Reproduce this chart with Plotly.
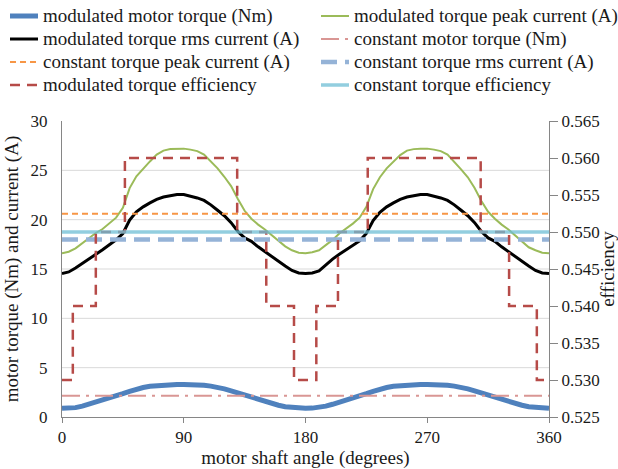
import plotly.graph_objects as go

# Shaft angle samples (degrees)
angle = list(range(0, 361, 5))

# Modulated motor torque (Nm)
mod_torque = [0.88, 0.90, 0.95, 1.10, 1.29, 1.48, 1.68, 1.88, 2.10, 2.36, 2.60, 2.82, 2.99,
              3.11, 3.19, 3.25, 3.28, 3.30, 3.30, 3.29, 3.26, 3.21, 3.13, 3.02, 2.85, 2.65,
              2.43, 2.20, 1.99, 1.79, 1.58, 1.38, 1.19, 1.04, 0.95, 0.90, 0.88,
              0.90, 0.95, 1.10, 1.29, 1.48, 1.68, 1.88, 2.10, 2.36, 2.60, 2.82, 2.99,
              3.11, 3.19, 3.25, 3.28, 3.30, 3.30, 3.29, 3.26, 3.21, 3.13, 3.02, 2.85, 2.65,
              2.43, 2.20, 1.99, 1.79, 1.58, 1.38, 1.19, 1.04, 0.95, 0.90, 0.88]

# Modulated torque peak current (A)
mod_peak = [16.60, 16.75, 17.10, 17.60, 18.10, 18.65, 19.05, 19.60, 20.20, 21.20, 23.20, 24.40,
            25.20, 25.90, 26.60, 27.00, 27.15, 27.20, 27.20, 27.10, 26.95, 26.60, 25.95, 25.20,
            24.35, 23.40, 22.10, 20.90, 20.10, 19.50, 19.00, 18.45, 17.90, 17.30, 16.90, 16.65,
            16.60,
            16.70, 16.90, 17.40, 17.95, 18.60, 19.10, 19.60, 20.20, 21.30, 23.10, 24.30,
            25.20, 25.90, 26.55, 27.00, 27.15, 27.20, 27.20, 27.10, 26.95, 26.60, 25.90, 25.10,
            24.30, 23.20, 21.90, 20.80, 20.10, 19.50, 19.00, 18.40, 17.80, 17.20, 16.90, 16.65,
            16.60]

# Modulated torque rms current (A)
mod_rms = [14.55, 14.70, 15.10, 15.55, 16.05, 16.50, 16.95, 17.45, 17.95, 18.60, 19.95, 20.80,
           21.30, 21.70, 22.05, 22.30, 22.45, 22.55, 22.55, 22.40, 22.20, 21.95, 21.50, 20.95,
           20.40, 19.70, 18.80, 18.15, 17.80, 17.25, 16.75, 16.25, 15.80, 15.30, 14.85, 14.60,
           14.55,
           14.60, 14.80, 15.40, 16.00, 16.50, 16.95, 17.45, 17.85, 18.60, 19.90, 20.75,
           21.30, 21.70, 22.05, 22.30, 22.45, 22.55, 22.55, 22.40, 22.20, 21.95, 21.50, 20.95,
           20.40, 19.70, 18.80, 18.15, 17.80, 17.25, 16.75, 16.25, 15.80, 15.30, 14.85, 14.60,
           14.55]

# Constant-torque reference levels
const_torque = 2.15
const_peak = 20.6
const_rms = 18.0
const_eff = 0.550

# Modulated torque efficiency: step levels starting at each angle
eff_angle = [0, 8, 25, 46.5, 129.5, 151, 171.5, 188, 204, 226, 309.5, 330.5, 351, 360]
eff_value = [0.530, 0.540, 0.550, 0.560, 0.550, 0.540, 0.530, 0.540, 0.550, 0.560, 0.550,
             0.540, 0.530, 0.530]

x_ticks = [0, 90, 180, 270, 360]
left_ticks = [0, 5, 10, 15, 20, 25, 30]
grid_levels = [5, 10, 15, 20, 25]

SERIF = "'Liberation Serif', 'Times New Roman', Times, serif"
INK = "#1a1a1a"
AXIS_GRAY = "#868686"
W, H = 618, 469
MARGIN = dict(l=62, r=69, t=121, b=52)
PLOT_W = W - MARGIN["l"] - MARGIN["r"]
PLOT_H = H - MARGIN["t"] - MARGIN["b"]
x_ends = [angle[0], angle[-1]]


def serif(size):
    return dict(family=SERIF, size=size)


def paper_x(px):
    return (px - MARGIN["l"]) / PLOT_W


def paper_y(py):
    return (H - MARGIN["b"] - py) / PLOT_H


fig = go.Figure()
traces = [
    go.Scatter(x=angle, y=mod_torque, name="modulated motor torque (Nm)",
               line=dict(color="#4f81bd", width=5)),
    go.Scatter(x=angle, y=mod_peak, name="modulated torque peak current (A)",
               line=dict(color="#9bbb59", width=2)),
    go.Scatter(x=angle, y=mod_rms, name="modulated torque rms current (A)",
               line=dict(color="#000000", width=3)),
    go.Scatter(x=x_ends, y=[const_torque] * 2, name="constant motor torque (Nm)",
               line=dict(color="#d99694", width=2, dash="18px,6px,3px,6px")),
    go.Scatter(x=x_ends, y=[const_peak] * 2, name="constant torque peak current (A)",
               line=dict(color="#f79646", width=2, dash="6px,4px")),
    go.Scatter(x=x_ends, y=[const_rms] * 2, name="constant torque rms current (A)",
               line=dict(color="#95b3d7", width=4.5, dash="16px,8px")),
    go.Scatter(x=eff_angle, y=eff_value, name="modulated torque efficiency", yaxis="y2",
               line=dict(color="#b64b48", width=2.5, dash="10px,7px", shape="hv")),
    go.Scatter(x=x_ends, y=[const_eff] * 2, name="constant torque efficiency", yaxis="y2",
               line=dict(color="rgba(110,190,212,0.75)", width=3.5)),
]
for tr in traces:
    tr.update(mode="lines", showlegend=False)
    fig.add_trace(tr)

# Two-column key above the plot: a short line sample plus the series name
key_cols = [(10, 38, 41), (321, 349, 352)]   # sample start, sample end, text start (px)
key_rows = [16, 39, 62, 85]
for i, tr in enumerate(traces):
    x0, x1, xt = key_cols[i % 2]
    yr = paper_y(key_rows[i // 2])
    ln = tr.line
    fig.add_shape(type="line", xref="paper", yref="paper", x0=paper_x(x0), x1=paper_x(x1),
                  y0=yr, y1=yr, line=dict(color=ln.color, width=ln.width, dash=ln.dash))
    fig.add_annotation(xref="paper", yref="paper", x=paper_x(xt), y=yr, xanchor="left",
                       yanchor="middle", text=tr.name, showarrow=False, font=serif(19))

for g in grid_levels:
    fig.add_shape(type="line", xref="x", yref="y", x0=x_ends[0], x1=x_ends[1], y0=g, y1=g,
                  line=dict(color="#d9d9d9", width=1), layer="below")

fig.update_layout(
    template="none",
    width=W, height=H,
    margin=MARGIN,
    paper_bgcolor="white", plot_bgcolor="white",
    font=dict(family=SERIF, size=17, color=INK),
    showlegend=False,
    xaxis=dict(range=x_ends, tickvals=x_ticks, ticks="outside", ticklen=5, tickcolor=AXIS_GRAY,
               tickfont=serif(17), showline=True, linecolor=AXIS_GRAY, linewidth=1,
               showgrid=False, zeroline=False, automargin=False,
               title=dict(text="motor shaft angle (degrees)", font=serif(19), standoff=2)),
    yaxis=dict(range=[0, 30], tickvals=left_ticks, ticks="outside", ticklen=10,
               tickcolor="rgba(0,0,0,0)", tickfont=serif(17), showline=True,
               linecolor=AXIS_GRAY, linewidth=1, showgrid=False, zeroline=False, automargin=False,
               title=dict(text="motor torque (Nm) and current (A)", font=serif(19), standoff=6)),
    yaxis2=dict(range=[0.525, 0.565], dtick=0.005, tickformat=".3f", overlaying="y", side="right",
                ticks="outside", ticklen=8, tickcolor=AXIS_GRAY, tickfont=serif(17), showline=True,
                linecolor=AXIS_GRAY, linewidth=1, showgrid=False, zeroline=False, automargin=False,
                title=dict(text="efficiency", font=serif(19), standoff=8)),
)

fig.write_html("out.html")
